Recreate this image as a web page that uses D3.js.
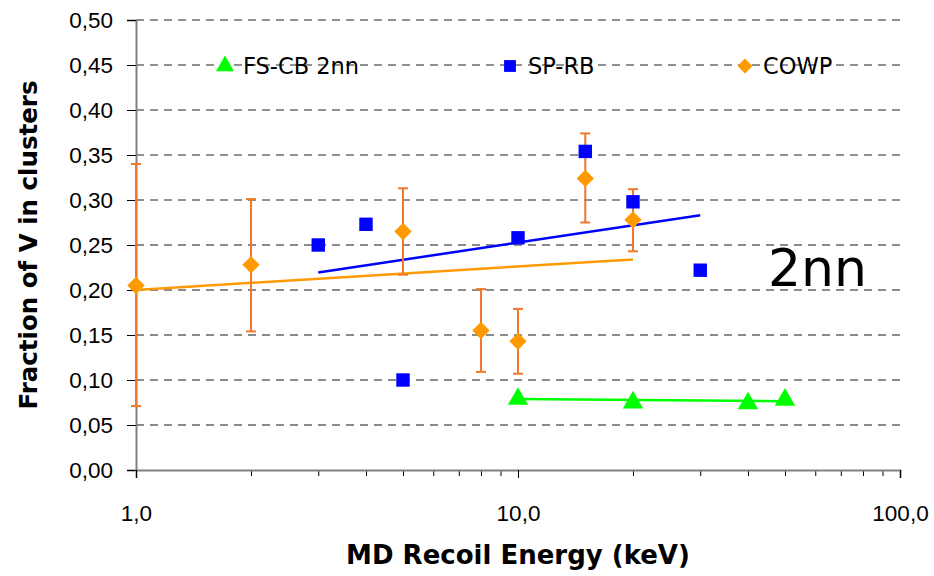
<!DOCTYPE html>
<html>
<head>
<meta charset="utf-8">
<script src="https://cdn.jsdelivr.net/npm/d3@7"></script>
<style>
  body { margin: 0; background: #fff; }
  svg { font-family: "DejaVu Sans", sans-serif; }
</style>
</head>
<body>
<div id="chart"></div>
<script>
// data
var fsEnergy = [10, 20, 40, 50];
var fsFrac   = [0.079, 0.075, 0.074, 0.078];

var spEnergy = [3, 4, 5, 10, 15, 20, 30];
var spFrac   = [0.250, 0.273, 0.100, 0.258, 0.354, 0.298, 0.222];

var cowpEnergy = [1, 2, 5, 8, 10, 15, 20];
var cowpFrac   = [0.205, 0.228, 0.265, 0.155, 0.143, 0.324, 0.278];
var cowpLow    = [0.071, 0.154, 0.217, 0.109, 0.107, 0.275, 0.243];
var cowpHigh   = [0.340, 0.301, 0.313, 0.201, 0.179, 0.374, 0.312];

// trendline end points
var fsTrend   = [[10, 0.079], [50, 0.0765]];
var spTrend   = [[3, 0.2195], [30, 0.283]];
var cowpTrend = [[1, 0.200], [20, 0.234]];

var yTicks = [0, 0.05, 0.10, 0.15, 0.20, 0.25, 0.30, 0.35, 0.40, 0.45, 0.50];
var xTicks = [1, 10, 100];

var width = 934, height = 576;
var margin = {top: 20, right: 34, bottom: 106, left: 136};
var w = width - margin.left - margin.right,
    h = height - margin.top - margin.bottom;

var svg = d3.select("#chart").append("svg")
    .attr("width", width)
    .attr("height", height);
var g = svg.append("g")
    .attr("transform", "translate(" + margin.left + "," + margin.top + ")");

var x = d3.scaleLog().domain([1, 100]).range([0, w]);
var y = d3.scaleLinear().domain([0, 0.5]).range([h, 0]);

var fmt = function(d) { return d3.format(".2f")(d).replace(".", ","); };

// gridlines (darker near the top like the original)
g.selectAll(".grid")
    .data(yTicks.filter(function(d) { return d > 0; }))
    .enter().append("line")
    .attr("x1", 0).attr("x2", w)
    .attr("y1", function(d) { return y(d); })
    .attr("y2", function(d) { return y(d); })
    .style("stroke", function(d) { return d > 0.27 ? "#222" : "#666"; })
    .style("stroke-width", function(d) { return d > 0.27 ? 1 : 1.5; })
    .style("stroke-dasharray", "8,6");

// y axis
var gy = g.append("g")
    .call(d3.axisLeft(y).tickValues(yTicks).tickFormat(fmt).tickSize(9).tickPadding(14));
gy.select(".domain").style("stroke", "#808080").style("stroke-width", 2);
gy.selectAll(".tick line").style("stroke", "#000");
gy.selectAll("text").style("font-size", "22.5px").style("fill", "#000");

// x axis: minor ticks then labelled majors
var minor = [];
[1, 10].forEach(function(dec) {
    for (var k = 2; k <= 9; k++) minor.push(dec * k);
});
var gxm = g.append("g")
    .attr("transform", "translate(0," + h + ")")
    .call(d3.axisBottom(x).tickValues(minor).tickSize(6).tickFormat(""));
gxm.select(".domain").remove();
gxm.selectAll(".tick line").style("stroke", "#000");

var gx = g.append("g")
    .attr("transform", "translate(0," + h + ")")
    .call(d3.axisBottom(x).tickValues(xTicks).tickSize(8).tickPadding(27)
        .tickFormat(function(d) { return d3.format(".1f")(d).replace(".", ","); }));
gx.select(".domain").style("stroke", "#808080").style("stroke-width", 2);
gx.selectAll(".tick line").style("stroke", "#000");
gx.selectAll("text").style("font-size", "22.5px").style("fill", "#000");

// trendlines
var line = d3.line()
    .x(function(d) { return x(d[0]); })
    .y(function(d) { return y(d[1]); });

g.append("path").datum(cowpTrend).attr("d", line)
    .style("fill", "none").style("stroke", "#FF9900").style("stroke-width", 2.5);
g.append("path").datum(spTrend).attr("d", line)
    .style("fill", "none").style("stroke", "#0000FF").style("stroke-width", 2.5);
g.append("path").datum(fsTrend).attr("d", line)
    .style("fill", "none").style("stroke", "#00FF00").style("stroke-width", 2.5);

// error bars (COWP)
var cowp = cowpEnergy.map(function(e, i) {
    return {e: e, v: cowpFrac[i], lo: cowpLow[i], hi: cowpHigh[i]};
});
var eb = g.selectAll(".err").data(cowp).enter().append("g")
    .style("stroke", "#F07828").style("stroke-width", 2);
eb.append("line")
    .attr("x1", function(d) { return x(d.e); }).attr("x2", function(d) { return x(d.e); })
    .attr("y1", function(d) { return y(d.lo); }).attr("y2", function(d) { return y(d.hi); });
eb.append("line")
    .attr("x1", function(d) { return x(d.e) - 5; }).attr("x2", function(d) { return x(d.e) + 5; })
    .attr("y1", function(d) { return y(d.hi); }).attr("y2", function(d) { return y(d.hi); });
eb.append("line")
    .attr("x1", function(d) { return x(d.e) - 5; }).attr("x2", function(d) { return x(d.e) + 5; })
    .attr("y1", function(d) { return y(d.lo); }).attr("y2", function(d) { return y(d.lo); });

// markers
var diamond = d3.symbol().type(d3.symbolSquare).size(150);
var square = d3.symbol().type(d3.symbolSquare).size(180);
var tri = d3.symbol().type(d3.symbolTriangle).size(180);

g.selectAll(".sp").data(spEnergy).enter().append("path")
    .attr("d", square)
    .attr("transform", function(d, i) { return "translate(" + x(d) + "," + y(spFrac[i]) + ")"; })
    .style("fill", "#0000FF");

g.selectAll(".cowp").data(cowp).enter().append("path")
    .attr("d", diamond)
    .attr("transform", function(d) { return "translate(" + x(d.e) + "," + y(d.v) + ") rotate(45)"; })
    .style("fill", "#FF9900");

g.selectAll(".fs").data(fsEnergy).enter().append("path")
    .attr("d", tri)
    .attr("transform", function(d, i) { return "translate(" + x(d) + "," + y(fsFrac[i]) + ")"; })
    .style("fill", "#00FF00");

// legend
var legend = [
    {name: "FS-CB 2nn", sym: tri, color: "#00FF00", x: 225, rot: 0},
    {name: "SP-RB", sym: square, color: "#0000FF", x: 510, rot: 0},
    {name: "COWP", sym: diamond, color: "#FF9900", x: 745, rot: 45}
];
var lg = svg.selectAll(".leg").data(legend).enter().append("g")
    .attr("transform", function(d) { return "translate(" + d.x + ",66)"; });
lg.append("path")
    .attr("d", function(d) { return d.sym.size(d.rot ? 110 : 140)(); })
    .attr("transform", function(d) { return "rotate(" + d.rot + ")"; })
    .style("fill", function(d) { return d.color; });
lg.append("text")
    .attr("x", 18).attr("y", 8)
    .style("font-size", "22.5px")
    .text(function(d) { return d.name; });

// 2nn label
svg.append("text")
    .attr("x", 768).attr("y", 286)
    .style("font-size", "52px")
    .text("2nn");

// axis titles
svg.append("text")
    .attr("x", margin.left + w / 2).attr("y", 564)
    .attr("text-anchor", "middle")
    .style("font-size", "26px").style("font-weight", "bold")
    .text("MD Recoil Energy (keV)");

svg.append("text")
    .attr("transform", "translate(37,245) rotate(-90)")
    .attr("text-anchor", "middle")
    .style("font-size", "24.5px").style("font-weight", "bold")
    .text("Fraction of V in clusters");
</script>
</body>
</html>
